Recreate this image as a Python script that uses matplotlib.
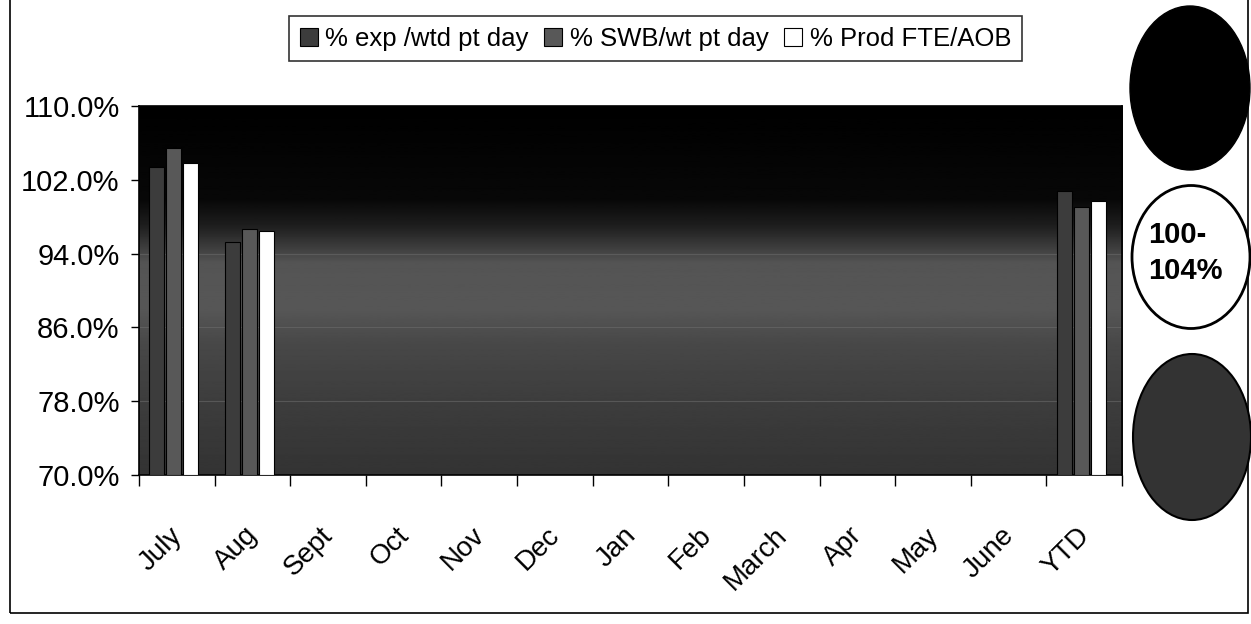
import numpy as np
import matplotlib
matplotlib.use("Agg")
import matplotlib.pyplot as plt
import matplotlib.transforms as mtransforms
from matplotlib.patches import Ellipse, Rectangle, Patch

plt.rcParams['font.family'] = ['Liberation Sans Narrow', 'Liberation Sans', 'DejaVu Sans']

months = ['July', 'Aug', 'Sept', 'Oct', 'Nov', 'Dec', 'Jan', 'Feb',
          'March', 'Apr', 'May', 'June', 'YTD']
nan = np.nan
exp_wtd = [103.4, 95.3, nan, nan, nan, nan, nan, nan, nan, nan, nan, nan, 100.8]
swb_wt = [105.5, 96.7, nan, nan, nan, nan, nan, nan, nan, nan, nan, nan, 99.1]
prod_fte = [103.8, 96.4, nan, nan, nan, nan, nan, nan, nan, nan, nan, nan, 99.7]
series_names = ['% exp /wtd pt day', '% SWB/wt pt day', '% Prod FTE/AOB']
yticks = [70, 78, 86, 94, 102, 110]

fig = plt.figure(figsize=(12.51, 6.24), dpi=100)
ax = fig.add_axes([0.1111, 0.2388, 0.7858, 0.5913])

# dark gradient back wall
ys = np.linspace(70, 110, 400)
shade = np.interp(ys, [70, 78, 84, 88, 93, 97, 100, 110],
                  [0.20, 0.24, 0.28, 0.34, 0.33, 0.12, 0.03, 0.0])
ax.imshow(shade[::-1, None], extent=[-0.5, len(months) - 0.5, 70, 110],
          aspect='auto', cmap='gray', vmin=0, vmax=1, zorder=0)
for g in [78, 86, 94]:
    ax.axhline(g, color='#6a6a6a', lw=0.8, alpha=0.6, zorder=1)

x = np.arange(len(months))
w = 0.2
colors = ['#3c3c3c', '#585858', 'white']
for i, (vals, c) in enumerate(zip([exp_wtd, swb_wt, prod_fte], colors)):
    v = np.array(vals)
    ax.bar(x - 0.04 + (i - 1) * 0.225, v - 70, bottom=70, width=w,
           color=c, edgecolor='black', linewidth=0.8, zorder=3)

ax.set_xlim(-0.5, len(months) - 0.5)
ax.set_ylim(70, 110)
ax.set_yticks(yticks)
ax.set_yticklabels(['%.1f%%' % t for t in yticks], fontsize=21)
ax.tick_params(axis='y', length=6, width=1, pad=8, direction='out')

ax.set_xticks(np.arange(len(months) + 1) - 0.5)
ax.set_xticklabels([])
ax.tick_params(axis='x', which='major', length=8, width=1, direction='out')
ax.set_xticks(x, minor=True)
ax.set_xticklabels(months, minor=True, rotation=45, ha='right',
                   rotation_mode='anchor', fontsize=20)
ax.tick_params(axis='x', which='minor', length=0, pad=34)
shift = mtransforms.ScaledTranslation(-8 / 100, 0, fig.dpi_scale_trans)
for lab in ax.get_xticklabels(minor=True):
    lab.set_va('top')
    lab.set_transform(lab.get_transform() + shift)

for s in ax.spines.values():
    s.set_linewidth(1.2)

handles = [Patch(facecolor=c, edgecolor='black', linewidth=0.8) for c in colors]
leg = fig.legend(handles, series_names, loc='center',
                 bbox_to_anchor=(0.524, 0.938), ncol=3, fontsize=18.5,
                 frameon=True, fancybox=False, handlelength=0.7,
                 handleheight=0.7, handletextpad=0.3, columnspacing=0.6,
                 borderpad=0.4, edgecolor='black')
leg.get_frame().set_linewidth(1.2)

# outer frame
fig.add_artist(Rectangle((10 / 1251, 11 / 624), 1238 / 1251, 1.0,
                         transform=fig.transFigure, fill=False,
                         edgecolor='black', lw=1.2))

# status ellipses
fig.add_artist(Ellipse((1190 / 1251, 1 - 88 / 624), 120 / 1251, 164 / 624,
                       transform=fig.transFigure, facecolor='black',
                       edgecolor='black'))
fig.add_artist(Ellipse((1191 / 1251, 1 - 257 / 624), 118 / 1251, 143 / 624,
                       transform=fig.transFigure, facecolor='white',
                       edgecolor='black', lw=2))
fig.text(1185 / 1251, 1 - 253 / 624, '100-\n104%', ha='center', va='center',
         multialignment='left', fontsize=21, fontweight='bold', linespacing=1.4)
fig.add_artist(Ellipse((1192 / 1251, 1 - 437 / 624), 118 / 1251, 166 / 624,
                       transform=fig.transFigure, facecolor='#333333',
                       edgecolor='black', lw=1.5))

fig.savefig('out.png', dpi=100)
